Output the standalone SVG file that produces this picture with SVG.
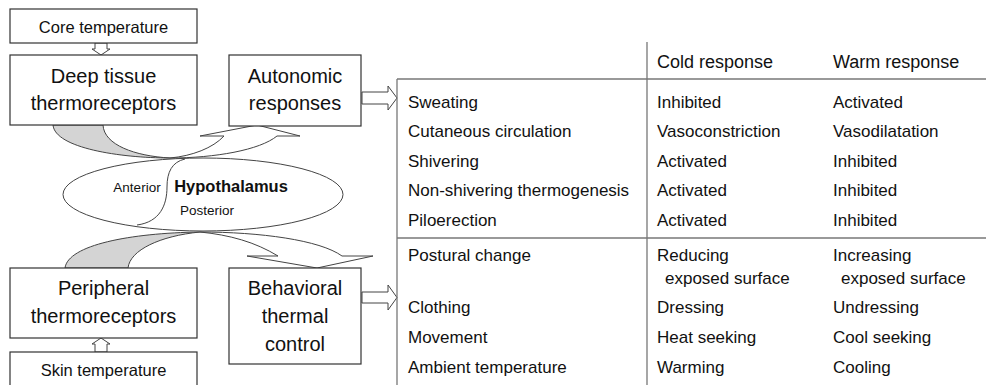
<svg xmlns="http://www.w3.org/2000/svg" width="986" height="385" viewBox="0 0 986 385">
<style>
text{font-family:"Liberation Sans",Arial,sans-serif;fill:#111}
.box{fill:#fff;stroke:#333;stroke-width:1.2}
.big{font-size:20px;text-anchor:middle}
.mid{font-size:16.5px;text-anchor:middle}
.t{font-size:17px}
.h{font-size:18px}
.tl{stroke:#777;stroke-width:1.3;fill:none}
.arr{fill:#fff;stroke:#444;stroke-width:1}
.gray{fill:#d4d4d4;stroke:#444;stroke-width:1}
.sm{font-size:13.5px}
</style>
<rect width="986" height="385" fill="#fff"/>

<g id="connectors">
  <path class="arr" d="M95,43 L107,43 L107,49 L110,49 L101,55 L92,49 L95,49 Z"/>
  <path class="arr" d="M95,352 L107,352 L107,344 L110,344 L101,338 L92,344 L95,344 Z"/>
  <path class="arr" d="M362,92 L388,92 L388,86 L397,98 L388,110 L388,104 L362,104 Z"/>
  <path class="arr" d="M362,292 L388,292 L388,285 L397,297.5 L388,310 L388,303 L362,303 Z"/>
</g>

<g id="hypothalamus">
  <ellipse cx="203" cy="194.5" rx="140" ry="36.5" fill="#fff" stroke="#444" stroke-width="1"/>
  <path d="M185,159 C172,162 167,172 167,187 C167,205 160,222 137,225" fill="none" stroke="#444" stroke-width="1"/>
  <text class="sm" x="137" y="192" text-anchor="middle">Anterior</text>
  <text x="231" y="192" text-anchor="middle" font-size="16.5" font-weight="bold">Hypothalamus</text>
  <text class="sm" x="207" y="215" text-anchor="middle">Posterior</text>
</g>

<g id="curved-arrows">
  <path class="gray" d="M53,125 C55,148 120,158 170,158 C135,156 104,145 103,125 Z"/>
  <path class="arr" d="M170,158 C215,158 260,150 277,136 L300,136 L257,125 L200,136 L224,136 C213,148 192,156 170,158 Z"/>
  <path class="gray" d="M65,268 C68,245 130,233 200,232 C160,236 130,250 128,268 Z"/>
  <path class="arr" d="M200,232 C260,232 320,240 342,256 L373,256 L317,268 L247,256 L278,256 C255,242 230,235 200,232 Z"/>
</g>

<g id="core-temperature">
  <rect class="box" x="10" y="9" width="187" height="34"/>
  <text class="mid" x="103.5" y="33">Core temperature</text>
</g>
<g id="deep-tissue">
  <rect class="box" x="10" y="55" width="187" height="70"/>
  <text class="big" x="103.5" y="83">Deep tissue</text>
  <text class="big" x="103.5" y="110">thermoreceptors</text>
</g>
<g id="autonomic">
  <rect class="box" x="229" y="55" width="132" height="71"/>
  <text class="big" x="295" y="83">Autonomic</text>
  <text class="big" x="295" y="110">responses</text>
</g>
<g id="peripheral">
  <rect class="box" x="10" y="268" width="187" height="70"/>
  <text class="big" x="103.5" y="295">Peripheral</text>
  <text class="big" x="103.5" y="323">thermoreceptors</text>
</g>
<g id="behavioral">
  <rect class="box" x="229" y="268" width="132" height="96"/>
  <text class="big" x="295" y="295">Behavioral</text>
  <text class="big" x="295" y="323">thermal</text>
  <text class="big" x="295" y="351">control</text>
</g>
<g id="skin-temperature">
  <rect class="box" x="10" y="352" width="187" height="40"/>
  <text class="mid" x="103.5" y="376">Skin temperature</text>
</g>

<g id="table">
  <line class="tl" x1="397" y1="79" x2="986" y2="79"/>
  <line class="tl" x1="397" y1="79" x2="397" y2="385"/>
  <line class="tl" x1="647" y1="42" x2="647" y2="385"/>
  <line class="tl" x1="397" y1="238" x2="986" y2="238"/>
  <text class="h" x="657" y="68">Cold response</text>
  <text class="h" x="833" y="68">Warm response</text>

  <text class="t" x="408" y="108">Sweating</text>
  <text class="t" x="408" y="137">Cutaneous circulation</text>
  <text class="t" x="408" y="167">Shivering</text>
  <text class="t" x="408" y="196">Non-shivering thermogenesis</text>
  <text class="t" x="408" y="226">Piloerection</text>

  <text class="t" x="657" y="108">Inhibited</text>
  <text class="t" x="657" y="137">Vasoconstriction</text>
  <text class="t" x="657" y="167">Activated</text>
  <text class="t" x="657" y="196">Activated</text>
  <text class="t" x="657" y="226">Activated</text>

  <text class="t" x="833" y="108">Activated</text>
  <text class="t" x="833" y="137">Vasodilatation</text>
  <text class="t" x="833" y="167">Inhibited</text>
  <text class="t" x="833" y="196">Inhibited</text>
  <text class="t" x="833" y="226">Inhibited</text>

  <text class="t" x="408" y="261">Postural change</text>
  <text class="t" x="408" y="313">Clothing</text>
  <text class="t" x="408" y="343">Movement</text>
  <text class="t" x="408" y="373">Ambient temperature</text>

  <text class="t" x="657" y="261">Reducing</text>
  <text class="t" x="665" y="284">exposed surface</text>
  <text class="t" x="657" y="313">Dressing</text>
  <text class="t" x="657" y="343">Heat seeking</text>
  <text class="t" x="657" y="373">Warming</text>

  <text class="t" x="833" y="261">Increasing</text>
  <text class="t" x="841" y="284">exposed surface</text>
  <text class="t" x="833" y="313">Undressing</text>
  <text class="t" x="833" y="343">Cool seeking</text>
  <text class="t" x="833" y="373">Cooling</text>
</g>
</svg>
